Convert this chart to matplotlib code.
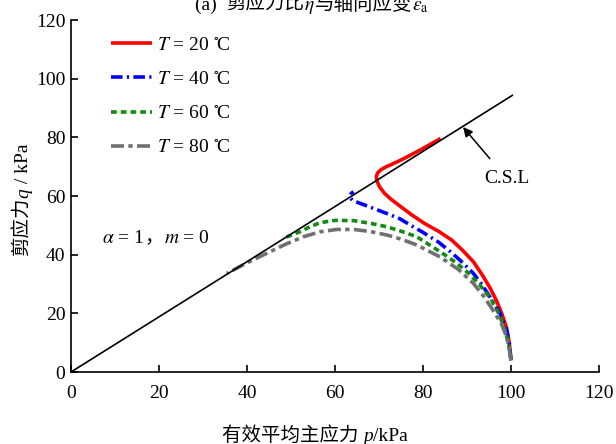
import matplotlib
matplotlib.use('Agg')
import matplotlib.pyplot as plt

plt.rcParams['font.family'] = ['Liberation Serif', 'Noto Sans CJK SC']
plt.rcParams['mathtext.fontset'] = 'stix'

# effective mean stress p (kPa) and shear stress q (kPa) for each temperature
p_20 = [100, 99.6, 99.0, 98.0, 96.8, 95.3, 93.5, 91.5, 89.0, 86.5, 83.5, 80.5,
        77.5, 75.0, 72.8, 71.2, 70.1, 69.5, 69.4, 69.7, 70.4, 71.4, 72.6,
        74.5, 77.0, 80.0, 84.0]
q_20 = [4, 10, 15, 19.5, 24, 28.5, 33, 37.5, 41.5, 45, 48, 50.5,
        53.5, 56.3, 58.8, 61.0, 63.2, 65.2, 66.7, 67.9, 68.9, 69.8, 70.6,
        71.9, 73.8, 76.2, 79.6]

p_40 = [100, 99.6, 99.0, 97.5, 95.2, 93.3, 91.4, 88.5, 86.0, 83.5, 80.0, 77.0,
        74.8, 71.5, 68.7, 65.7, 64.0, 63.4, 63.6, 64.2]
q_40 = [4, 10, 14.3, 20, 25.6, 30, 33.7, 38, 41.3, 44.3, 47.6, 50.2,
        52.2, 54.2, 55.8, 57.5, 58.5, 59.5, 60.7, 61.5]

p_60 = [100, 99.4, 98.5, 97.2, 95.4, 93.0, 90.5, 87.5, 83.9, 78.6, 75.0, 71.8,
        68.0, 64.2, 60.0, 56.6, 54.3, 52.0, 48.3]
q_60 = [4, 10, 15, 20, 25, 29.5, 33.5, 37.3, 41, 46.1, 48, 49.5,
        50.7, 51.6, 51.7, 50.9, 49.5, 47.8, 45.6]

p_80 = [100, 99.6, 99.0, 97.8, 95.9, 93.8, 91.4, 88.0, 83.9, 78.6, 75.0, 71.8,
        68.0, 64.2, 60.4, 56.6, 52.8, 49.0, 45.2, 40.0, 35.4]
q_80 = [4, 8, 12, 16.5, 21.1, 25.8, 30.3, 35, 39.2, 43.3, 45.3, 46.7,
        47.9, 48.6, 48.6, 47.8, 46.1, 43.7, 41, 37.2, 33.6]

# critical state line
csl_p = [0, 100.3]
csl_q = [0, 94.3]

temps = ['20', '40', '60', '80']
colors = ['#ff0000', '#0000ff', '#138a13', '#707070']
styles = ['-', (0, (3.2, 1.2, 0.6, 1.2)), (0, (1.6, 1.1)), (0, (3.6, 1.2, 1.2, 1.2))]
xticks = [0, 20, 40, 60, 80, 100, 120]
yticks = [0, 20, 40, 60, 80, 100, 120]

W, H = 616, 444
fig = plt.figure(figsize=(W / 100, H / 100), dpi=100)
ax = fig.add_axes([71 / W, 1 - 372 / H, 528 / W, 352 / H])

curves = [(p_20, q_20), (p_40, q_40), (p_60, q_60), (p_80, q_80)]
for (p, q), t, c, ls in zip(curves, temps, colors, styles):
    ax.plot(p, q, color=c, ls=ls, lw=2.6, label='$T$ = ' + t + ' $^{\\circ}\\!$C',
            solid_capstyle='butt', dash_capstyle='butt', solid_joinstyle='round')

ax.plot(csl_p, csl_q, color='k', lw=1.2, zorder=5)

ax.annotate('C.S.L', xy=(89.1, 83.5), xytext=(99, 66), fontsize=14,
            ha='center', va='center',
            arrowprops=dict(arrowstyle='-|>', color='k', lw=1.1,
                            mutation_scale=14, shrinkA=8, shrinkB=0))

ax.set_xlim(0, 120)
ax.set_ylim(0, 120)
ax.set_xticks(xticks)
ax.set_yticks(yticks)
ax.spines['top'].set_visible(False)
ax.spines['right'].set_visible(False)
for s in ['left', 'bottom']:
    ax.spines[s].set_linewidth(1.2)
ax.tick_params(direction='in', length=5, width=1.2, labelsize=14)
ax.tick_params(axis='x', pad=9)
ax.tick_params(axis='y', pad=4)

ax.legend(loc='upper left', bbox_to_anchor=(0.042, 1.003), frameon=False,
          fontsize=14, handlelength=2.1, handletextpad=0.3, labelspacing=0.85)

renderer = fig.canvas.get_renderer()


def put_pieces(x, y, pieces, rot=0, align='center'):
    # lay text pieces one after another starting from pixel (x, y)
    sizes = []
    for s, kw in pieces:
        t = fig.text(0, 0, s, **kw)
        sizes.append(t.get_window_extent(renderer).width)
        t.remove()
    total = sum(sizes)
    pos = -total / 2 if align == 'center' else 0
    for (s, kw), w in zip(pieces, sizes):
        if rot == 0:
            xx, yy = x + pos, y
        else:
            xx, yy = x, y + pos
        fig.text(xx / W, yy / H, s, rotation=rot, rotation_mode='anchor',
                 ha='left', va='baseline', **kw)
        pos += w


cjk = dict(fontsize=14, family=['Noto Sans CJK SC'])
ser = dict(fontsize=14, family=['Liberation Serif'])
ita = dict(fontsize=14, family=['Liberation Serif'], style='italic')

# axis labels
put_pieces(315, H - 441, [('有效平均主应力 ', cjk), ('p', ita), ('/kPa', ser)])
put_pieces(28, H - 200, [('剪应力', cjk), ('q', ita), (' / kPa', ser)], rot=90)

# panel title, partly above the top edge
put_pieces(312, H - 10, [('(a)  ', ser), ('剪应力比', cjk), (r'$\eta$', ser),
                         ('与轴向应变', cjk), (r'$\varepsilon_{\rm a}$', ser)])

# test conditions
x0, y0 = ax.transData.transform((7, 44))
put_pieces(x0, y0, [(r'$\alpha$ = 1', ser), ('，', cjk), (r'$m$ = 0', ser)],
           align='left')

fig.savefig('out.png', dpi=100)
